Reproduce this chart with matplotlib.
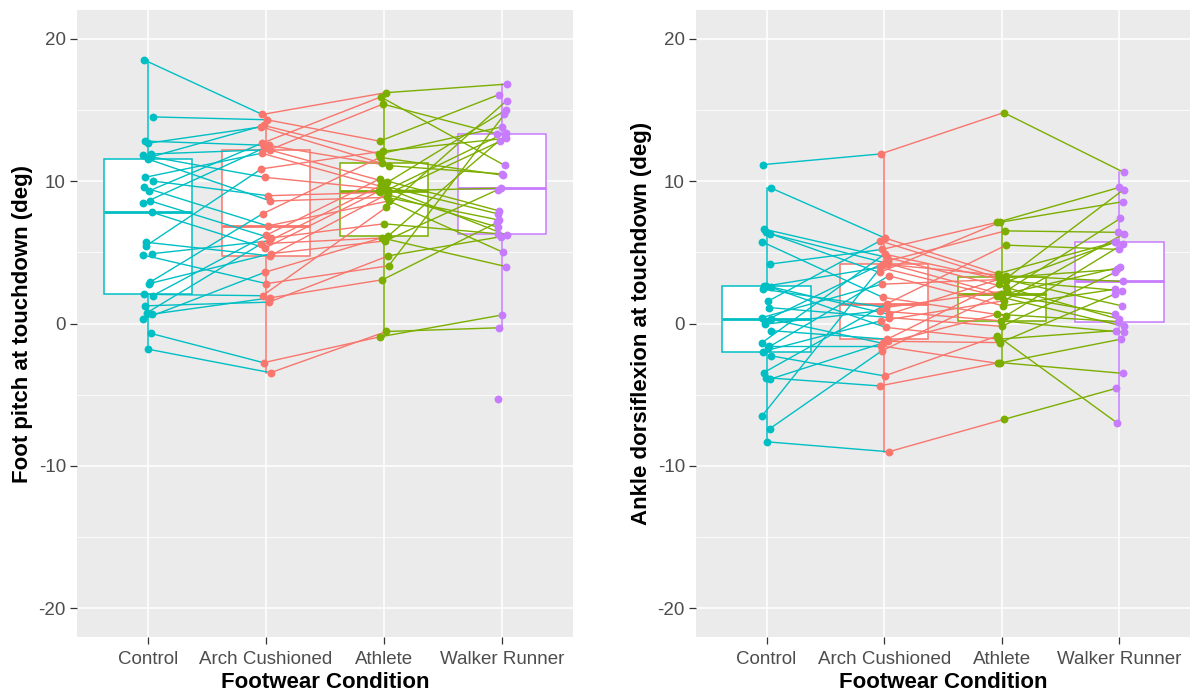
import matplotlib
matplotlib.use("Agg")
import matplotlib.pyplot as plt
import numpy as np

plt.rcParams['font.family'] = ['Liberation Sans', 'DejaVu Sans']
plt.rcParams['axes.unicode_minus'] = False

conditions = ["Control", "Arch Cushioned", "Athlete", "Walker Runner"]
colours = ["#00BFC4", "#F8766D", "#7CAE00", "#C77CFF"]
nan = np.nan

# foot pitch at touchdown (deg), one entry per subject (nan = missing)
pitch_control = [-1.8, -0.7, 0.3, 0.65, 0.77, 1.24, 1.95, 2.05, 2.8, 2.9,
                 4.8, 4.9, 5.45, 5.7, 7.8, 8.45, 8.6, 9.3, 9.55, 10.0,
                 10.26, 11.55, 11.7, 11.8, 11.9, 12.65, 12.8, 14.5, 18.5, nan]
pitch_arch = [-3.45, -2.75, 3.6, 1.8, 5.6, 1.5, 6.2, 1.95, 4.9, 7.7,
              2.8, 5.8, 10.85, 4.75, 5.3, 12.3, 6.0, 12.65, 6.85, 8.97,
              11.95, 8.6, 13.9, 10.26, 12.2, 13.8, 12.5, 14.3, 14.67, nan]
pitch_athlete = [-0.56, -0.94, 6.15, 3.07, 6.0, 4.75, 10.14, 8.15, 5.8, 11.66,
                 4.05, 9.7, 12.1, 9.1, 9.3, 9.9, 7.0, 15.9, 8.6, 9.2,
                 9.55, 8.85, 11.9, 9.4, 15.4, 11.24, 11.08, 12.8, 16.2, nan]
pitch_walker = [-0.3, 0.6, 13.2, 7.1, 4.0, 6.1, 7.9, 15.65, 9.4, 10.4,
                14.67, 7.7, 13.0, 12.8, 9.5, 15.0, 6.3, 11.1, 5.0, 6.75,
                6.2, 7.26, 13.8, 13.4, 13.3, nan, 10.5, 16.07, 16.8, -5.3]

# ankle dorsiflexion at touchdown (deg)
ankle_control = [-8.3, -7.38, -6.5, -3.9, -3.8, -3.44, -2.27, -1.97, -1.69, -1.57,
                 -1.34, -0.5, -0.05, 0.19, 0.3, 0.42, 1.12, 1.55, 2.41, 2.53,
                 2.6, 2.65, 4.17, 5.74, 6.3, 6.4, 6.63, 9.5, 11.15]
ankle_arch = [-9.0, -1.92, 4.17, -1.25, -4.38, 1.4, -3.68, 0.19, 3.35, -1.57,
              4.87, -1.1, 0.89, 4.4, -1.4, 2.76, 0.42, 5.8, 1.12, -0.28,
              3.94, 0.65, 5.2, 1.83, 4.2, 3.58, 4.64, 6.0, 11.9]
ankle_athlete = [-6.72, 1.95, 3.35, -1.34, -2.74, 5.5, -0.87, 1.6, 1.24, -2.8,
                 3.0, 2.76, 0.19, 6.5, 0.65, 3.1, -0.2, 3.2, 2.3, -1.1,
                 1.83, 3.23, 7.1, 0.54, 2.06, 7.1, 2.53, 3.5, 14.8]
ankle_walker = [-4.55, 3.94, 2.95, 2.06, -3.5, 5.2, -6.96, 6.3, 2.41, -1.1,
                2.3, 5.7, -0.62, 6.4, 0.14, 9.4, 3.58, 1.24, 7.38, -0.5,
                -0.2, 3.8, 9.55, 5.57, 0.65, 8.55, 0.3, 5.74, 10.6]

y_ticks = [-20, -10, 0, 10, 20]


def draw_panel(ax, series, ylabel):
    series = [np.asarray(s, dtype=float) for s in series]
    n = len(series[0])
    pos = np.arange(1, 5)

    ax.set_facecolor("#EBEBEB")
    for sp in ax.spines.values():
        sp.set_visible(False)

    # boxes
    clean = [s[~np.isnan(s)] for s in series]
    bp = ax.boxplot(clean, positions=pos, widths=0.75, whis=1.5,
                    patch_artist=True, showcaps=False, showfliers=False,
                    manage_ticks=False, zorder=2)
    for k, c in enumerate(colours):
        bp['boxes'][k].set(facecolor='white', edgecolor=c, linewidth=1.1)
        bp['medians'][k].set(color=c, linewidth=2.0)
        bp['whiskers'][2 * k].set(color=c, linewidth=1.1)
        bp['whiskers'][2 * k + 1].set(color=c, linewidth=1.1)

    # small horizontal jitter, same for a point and its lines
    jit = [0.04 * np.sin(np.arange(n) * 2.39 + 1.3 * k) for k in range(4)]

    # paired lines, coloured by the left-hand condition
    for k in range(3):
        for i in range(n):
            a, b = series[k][i], series[k + 1][i]
            if np.isnan(a) or np.isnan(b):
                continue
            ax.plot([pos[k] + jit[k][i], pos[k + 1] + jit[k + 1][i]], [a, b],
                    color=colours[k], linewidth=1.0, zorder=3,
                    solid_capstyle='butt')

    for k in range(4):
        ok = ~np.isnan(series[k])
        ax.scatter(pos[k] + jit[k][ok], series[k][ok], s=32, color=colours[k],
                   linewidths=0, zorder=4)

    ax.set_xlim(0.4, 4.6)
    ax.set_ylim(-22, 22)
    ax.set_xticks(pos)
    ax.set_xticklabels(conditions)
    ax.set_yticks(y_ticks)
    ax.set_yticklabels([str(t) for t in y_ticks])
    ax.set_yticks([-15, -5, 5, 15], minor=True)
    ax.set_axisbelow(True)
    ax.grid(which='major', color='white', linewidth=1.1)
    ax.grid(which='minor', axis='y', color='white', linewidth=0.55)
    ax.tick_params(which='major', length=5, width=0.9, color='#333333',
                   labelsize=13.5, labelcolor='#4D4D4D', pad=3)
    ax.tick_params(axis='x', which='major', pad=5)
    ax.tick_params(which='minor', length=0)
    ax.set_xlabel("Footwear Condition", fontsize=16, fontweight='bold',
                  color='black', labelpad=3)
    ax.set_ylabel(ylabel, fontsize=16, fontweight='bold', color='black',
                  labelpad=4)


fig = plt.figure(figsize=(11.91, 6.92), dpi=100)
ax1 = fig.add_axes([0.0647, 0.0795, 0.4164, 0.906])
ax2 = fig.add_axes([0.5844, 0.0795, 0.4148, 0.906])

draw_panel(ax1, [pitch_control, pitch_arch, pitch_athlete, pitch_walker],
           "Foot pitch at touchdown (deg)")
draw_panel(ax2, [ankle_control, ankle_arch, ankle_athlete, ankle_walker],
           "Ankle dorsiflexion at touchdown (deg)")

fig.savefig("out.png", dpi=100)
